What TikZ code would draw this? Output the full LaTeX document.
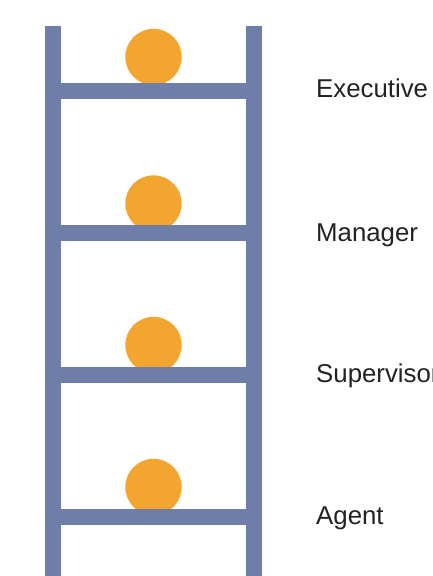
\documentclass[tikz,border=0pt]{standalone}
\usepackage{fontspec}
\setmainfont{Liberation Sans}
\usepackage{tikz}
\usepackage{xcolor}
\definecolor{railblue}{HTML}{6F7EA9}
\definecolor{ballorange}{HTML}{F2A62F}
\definecolor{ink}{HTML}{222222}
\tikzstyle{pole}=[fill=railblue, draw=none]
\tikzstyle{rung}=[fill=railblue, draw=none]
\tikzstyle{ball}=[fill=ballorange, draw=none]
\tikzstyle{level}=[anchor=base west, inner sep=0pt, text=ink, font=\fontsize{25.8}{30}\selectfont]

\begin{document}
\begin{tikzpicture}[x=1pt,y=-1pt]
\useasboundingbox (0,0) rectangle (432,576);
\coordinate (b1) at (153.5,57);
\coordinate (b2) at (153.5,203.5);
\coordinate (b3) at (153.5,345);
\coordinate (b4) at (153.5,487);
% balls sit behind the rungs
\fill[ball] (b1) circle (28.2);
\fill[ball] (b2) circle (28.2);
\fill[ball] (b3) circle (28.2);
\fill[ball] (b4) circle (28.2);
% the two poles
\fill[pole] (45.3,26) rectangle (61.3,580);
\fill[pole] (245.7,26) rectangle (261.7,580);
% rungs
\fill[rung] (61,82.5) rectangle (246,99);
\fill[rung] (61,224.5) rectangle (246,240.7);
\fill[rung] (61,366.7) rectangle (246,382.7);
\fill[rung] (61,509) rectangle (246,525);
\node[level] (exec) at (316,97.3) {Executive};
\node[level] (mgr) at (316,241.7) {Manager};
\node[level] (sup) at (316,382.5) {Supervisor};
\node[level] (agent) at (316,524.3) {Agent};
\end{tikzpicture}
\end{document}
